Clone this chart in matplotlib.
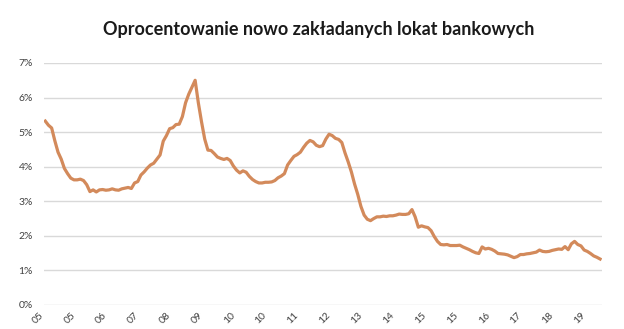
import matplotlib.pyplot as plt
import numpy as np

# monthly rates (%), Jan 2005 - Jul 2019
rates = [
    5.32, 5.20, 5.12, 4.75, 4.42, 4.22, 3.95, 3.80, 3.67, 3.62, 3.62, 3.64,
    3.60, 3.48, 3.28, 3.33, 3.27, 3.33, 3.34, 3.32, 3.33, 3.36, 3.33, 3.32,
    3.36, 3.38, 3.40, 3.37, 3.53, 3.57, 3.76, 3.85, 3.96, 4.05, 4.10, 4.22,
    4.34, 4.74, 4.90, 5.10, 5.13, 5.22, 5.23, 5.45, 5.85, 6.10, 6.30, 6.50,
    5.85, 5.30, 4.80, 4.48, 4.47, 4.38, 4.28, 4.24, 4.21, 4.24, 4.18, 4.02,
    3.90, 3.82, 3.88, 3.84, 3.72, 3.63, 3.57, 3.53, 3.53, 3.55, 3.55, 3.56,
    3.60, 3.68, 3.73, 3.80, 4.05, 4.18, 4.30, 4.35, 4.42, 4.56, 4.68, 4.76,
    4.72, 4.62, 4.58, 4.61, 4.80, 4.94, 4.90, 4.82, 4.79, 4.70, 4.40, 4.14,
    3.85, 3.50, 3.20, 2.85, 2.60, 2.48, 2.44, 2.50, 2.55, 2.55, 2.57, 2.56,
    2.58, 2.58, 2.60, 2.63, 2.62, 2.62, 2.64, 2.76, 2.55, 2.25, 2.29, 2.26,
    2.24, 2.15, 1.98, 1.84, 1.75, 1.74, 1.75, 1.72, 1.72, 1.72, 1.73, 1.68,
    1.64, 1.60, 1.55, 1.51, 1.49, 1.68, 1.62, 1.64, 1.61, 1.56, 1.49, 1.48,
    1.47, 1.45, 1.41, 1.37, 1.40, 1.46, 1.46, 1.48, 1.49, 1.51, 1.53, 1.59,
    1.55, 1.54, 1.55, 1.58, 1.60, 1.62, 1.61, 1.69, 1.60, 1.77, 1.84, 1.75,
    1.71, 1.59, 1.55, 1.49, 1.42, 1.38, 1.33,
]
# a label every 10 months starting Jan 2005
tick_labels = ["05", "05", "06", "07", "08", "09", "10", "10", "11",
               "12", "13", "14", "15", "15", "16", "17", "18", "19"]
y_ticks = [0, 1, 2, 3, 4, 5, 6, 7]

plt.rcParams["font.family"] = ["Lato", "DejaVu Sans"]

fig = plt.figure(figsize=(6.24, 3.29), dpi=100)
ax = fig.add_axes([44 / 624, 1 - 305 / 329, 558 / 624, 242 / 329])

months = np.arange(len(rates))
ax.plot(months, rates, color="#D38A5B", lw=2.3, solid_joinstyle="round")

ax.set_ylim(0, 7)
ax.set_xlim(-0.4, 174.6)
ax.set_yticks(y_ticks)
ax.set_yticklabels([f"{v}%" for v in y_ticks])
ax.set_xticks(np.arange(len(tick_labels)) * 10)
ax.set_xticklabels(tick_labels, rotation=45, ha="right")
ax.grid(axis="y", color="#d9d9d9", lw=1)
ax.set_axisbelow(True)
for s in ax.spines.values():
    s.set_visible(False)
ax.tick_params(axis="y", length=0, pad=8, labelsize=7.5, labelcolor="#404040")
ax.tick_params(axis="x", length=0, pad=4, labelsize=7.5, labelcolor="#404040")

fig.text(0.51, 1 - 29 / 329, "Oprocentowanie nowo zakładanych lokat bankowych",
         ha="center", va="center", fontsize=13, fontweight="bold", color="#1a1a1a")

fig.savefig("out.png", dpi=100)
